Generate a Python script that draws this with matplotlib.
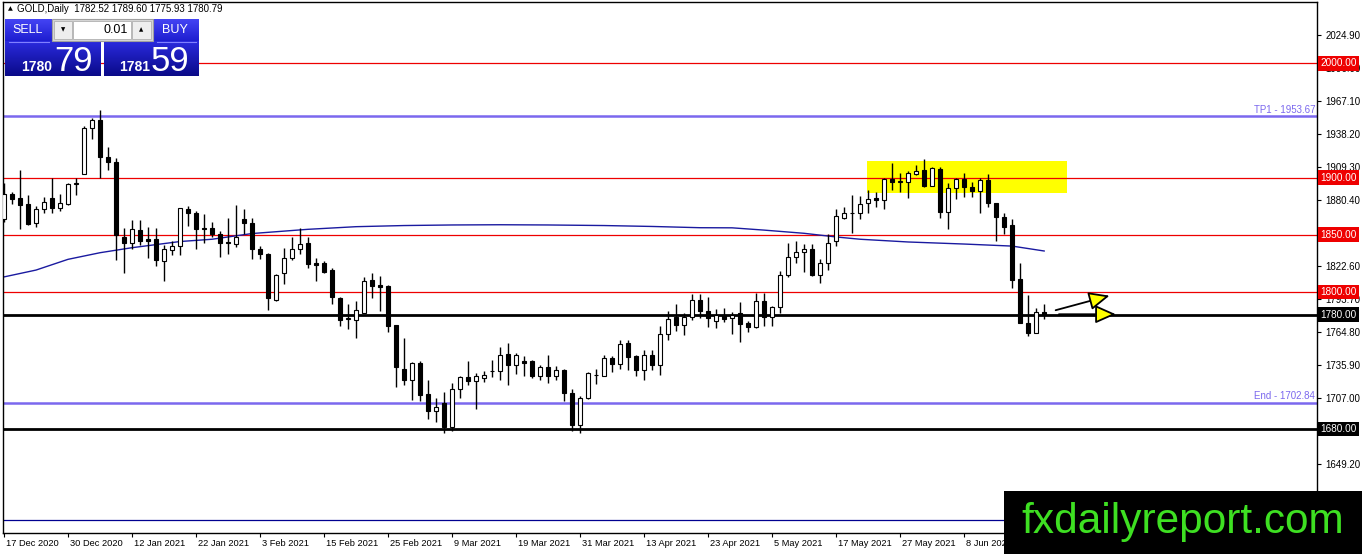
import numpy as np
import matplotlib
matplotlib.use('Agg')
import matplotlib.pyplot as plt
from matplotlib.patches import Rectangle, FancyArrowPatch
from matplotlib.colors import LinearSegmentedColormap

plt.rcParams['font.family'] = ['Liberation Sans', 'DejaVu Sans']

# daily OHLC, 17 Dec 2020 .. 22 Jun 2021
opens = [1863.5, 1885.4, 1882.5, 1876.6, 1860.0, 1872.8, 1882.5, 1873.7, 1877.2, 1894.2,
         1903.5, 1943.0, 1950.3, 1918.4, 1914.0, 1848.2, 1843.0, 1854.1, 1846.0, 1846.5,
         1826.9, 1836.6, 1840.1, 1872.1, 1869.2, 1855.5, 1855.5, 1850.3, 1843.8, 1842.2,
         1863.4, 1860.5, 1837.8, 1833.4, 1793.0, 1816.0, 1830.0, 1837.8, 1843.0, 1825.6,
         1825.6, 1818.9, 1794.2, 1776.5, 1775.3, 1781.5, 1810.3, 1805.6, 1805.3, 1770.6,
         1732.4, 1722.9, 1737.6, 1710.6, 1695.9, 1702.4, 1681.8, 1714.7, 1725.3, 1721.5,
         1724.1, 1730.6, 1730.3, 1745.6, 1735.6, 1739.0, 1739.0, 1725.8, 1734.0, 1725.8,
         1731.1, 1711.1, 1683.3, 1706.7, 1727.0, 1726.4, 1741.9, 1736.7, 1755.1, 1743.4,
         1731.7, 1744.9, 1735.5, 1763.3, 1777.7, 1770.7, 1778.0, 1792.7, 1783.4, 1774.7,
         1779.9, 1777.0, 1781.1, 1773.0, 1768.9, 1792.2, 1778.2, 1786.3, 1814.5, 1830.8,
         1835.2, 1837.2, 1814.8, 1825.6, 1844.5, 1864.3, 1869.0, 1869.2, 1877.5, 1882.5,
         1880.4, 1899.1, 1896.5, 1896.5, 1902.9, 1906.7, 1892.7, 1907.9, 1869.9, 1891.2,
         1899.1, 1892.1, 1888.3, 1898.0, 1877.5, 1865.8, 1858.2, 1811.4, 1772.8, 1764.0,
         1782.52]
highs = [1895.6, 1887.7, 1906.4, 1884.5, 1875.1, 1883.3, 1900.0, 1886.0, 1895.0, 1899.4,
         1945.0, 1952.6, 1959.4, 1927.2, 1917.5, 1855.6, 1862.9, 1862.6, 1857.0, 1856.2,
         1840.9, 1844.4, 1873.5, 1875.0, 1870.6, 1867.7, 1861.3, 1853.2, 1864.2, 1875.6,
         1872.1, 1864.2, 1840.1, 1833.6, 1815.4, 1838.7, 1848.0, 1855.5, 1848.0, 1829.9,
         1827.0, 1820.6, 1795.0, 1789.2, 1791.5, 1812.6, 1816.2, 1813.5, 1806.2, 1770.8,
         1759.1, 1738.5, 1739.1, 1722.9, 1706.8, 1712.6, 1720.0, 1726.5, 1739.7, 1728.8,
         1730.6, 1740.6, 1751.5, 1755.3, 1746.5, 1743.5, 1740.5, 1736.0, 1744.9, 1735.2,
         1732.3, 1714.7, 1708.8, 1729.9, 1732.3, 1744.9, 1744.0, 1757.5, 1757.5, 1744.9,
         1748.7, 1748.7, 1769.8, 1783.0, 1789.7, 1781.5, 1797.7, 1797.7, 1795.6, 1784.9,
         1785.8, 1782.0, 1790.7, 1774.1, 1798.5, 1798.5, 1787.8, 1818.3, 1843.0, 1844.5,
         1841.6, 1842.2, 1828.5, 1850.3, 1872.1, 1874.1, 1885.0, 1883.7, 1889.2, 1887.4,
         1900.0, 1912.6, 1903.8, 1905.8, 1910.8, 1916.7, 1909.0, 1909.6, 1895.6, 1900.0,
         1903.8, 1896.2, 1900.0, 1902.9, 1877.7, 1868.7, 1863.5, 1824.9, 1796.8, 1786.0,
         1789.60]
lows = [1861.4, 1877.2, 1855.3, 1858.5, 1856.7, 1868.7, 1868.7, 1870.8, 1875.7, 1884.8,
        1903.5, 1934.2, 1900.0, 1906.7, 1827.8, 1816.7, 1837.7, 1840.9, 1829.2, 1822.5,
        1809.3, 1832.2, 1832.3, 1857.6, 1837.2, 1843.0, 1848.0, 1830.8, 1833.4, 1839.2,
        1850.3, 1829.1, 1829.1, 1784.0, 1791.6, 1806.7, 1827.9, 1832.8, 1820.6, 1809.6,
        1816.3, 1789.2, 1769.8, 1767.4, 1759.7, 1781.0, 1794.4, 1783.2, 1764.7, 1716.2,
        1718.5, 1705.3, 1704.4, 1688.5, 1686.2, 1675.9, 1678.2, 1706.8, 1717.9, 1697.4,
        1720.9, 1725.0, 1723.0, 1718.5, 1728.0, 1726.5, 1724.3, 1722.3, 1720.5, 1722.9,
        1704.7, 1678.3, 1676.5, 1705.9, 1719.4, 1725.8, 1729.3, 1732.3, 1731.7, 1725.8,
        1722.9, 1731.7, 1727.3, 1758.1, 1765.4, 1762.5, 1775.1, 1777.1, 1769.5, 1768.3,
        1773.3, 1763.1, 1755.8, 1764.5, 1768.5, 1770.3, 1770.3, 1781.1, 1812.5, 1825.6,
        1817.7, 1814.0, 1808.1, 1818.9, 1840.1, 1863.4, 1851.7, 1863.4, 1869.3, 1874.6,
        1872.8, 1889.2, 1887.4, 1882.5, 1902.0, 1892.1, 1892.5, 1864.9, 1855.3, 1881.6,
        1883.3, 1883.3, 1869.3, 1874.6, 1844.4, 1850.3, 1803.5, 1772.2, 1761.1, 1764.0,
        1775.93]
closes = [1885.4, 1881.6, 1876.0, 1859.6, 1872.8, 1878.9, 1873.1, 1878.1, 1894.7, 1895.0,
          1943.3, 1950.3, 1918.4, 1914.0, 1849.4, 1843.0, 1854.7, 1844.4, 1844.4, 1827.8,
          1837.1, 1840.0, 1873.0, 1869.2, 1855.2, 1855.2, 1850.3, 1843.0, 1843.0, 1848.0,
          1860.5, 1837.8, 1832.8, 1794.2, 1814.5, 1830.0, 1837.8, 1842.2, 1824.1, 1823.5,
          1817.4, 1795.0, 1775.6, 1776.7, 1784.1, 1809.1, 1805.3, 1804.4, 1770.0, 1733.8,
          1722.9, 1737.6, 1709.7, 1695.9, 1698.8, 1681.8, 1714.7, 1725.3, 1721.5, 1726.5,
          1727.1, 1730.9, 1745.0, 1735.6, 1745.0, 1738.0, 1725.8, 1734.0, 1725.8, 1731.7,
          1711.7, 1683.3, 1706.7, 1728.7, 1727.5, 1741.6, 1737.0, 1754.3, 1742.5, 1731.1,
          1744.3, 1735.5, 1763.3, 1776.2, 1770.7, 1778.0, 1792.7, 1783.0, 1777.0, 1779.9,
          1776.2, 1779.9, 1771.8, 1768.9, 1792.2, 1778.2, 1786.3, 1814.5, 1830.8, 1835.2,
          1837.2, 1814.8, 1825.6, 1843.0, 1866.3, 1869.2, 1869.2, 1877.0, 1881.6, 1880.4,
          1899.1, 1896.2, 1896.6, 1903.8, 1905.8, 1892.7, 1908.8, 1869.9, 1891.2, 1899.1,
          1892.1, 1888.3, 1898.0, 1877.5, 1865.8, 1857.0, 1810.2, 1772.8, 1764.0, 1782.2,
          1780.79]

# moving average, read at a few bars
ma_bars = [0, 4, 8, 12, 16, 22, 26, 31, 38, 44, 50, 56, 62, 68, 75, 81, 87, 91, 95,
           100, 104, 107, 113, 120, 126, 130]
ma_vals = [1813.0, 1819.0, 1828.4, 1834.2, 1838.6, 1844.0, 1846.0, 1851.0, 1854.7, 1857.0,
           1858.0, 1858.5, 1858.7, 1858.5, 1858.0, 1857.2, 1856.1, 1856.0, 1854.0, 1851.2,
           1848.0, 1846.0, 1843.6, 1841.8, 1840.0, 1835.7]

date_labels = ['17 Dec 2020', '30 Dec 2020', '12 Jan 2021', '22 Jan 2021', '3 Feb 2021',
               '15 Feb 2021', '25 Feb 2021', '9 Mar 2021', '19 Mar 2021', '31 Mar 2021',
               '13 Apr 2021', '23 Apr 2021', '5 May 2021', '17 May 2021', '27 May 2021',
               '8 Jun 2021']

red_levels = [2000.0, 1900.0, 1850.0, 1800.0]
black_levels = [1780.0, 1680.0]
tp_level = 1953.67
end_level = 1702.84

price_ticks = [2024.90, 1996.00, 1967.10, 1938.20, 1909.30, 1880.40, 1822.60,
               1793.70, 1764.80, 1735.90, 1707.00, 1649.20, 1620.30]

W, H = 1362, 554
fig = plt.figure(figsize=(W / 100, H / 100), dpi=100)
ax = fig.add_axes([3 / W, 21 / H, 1314 / W, 531 / H])
ax.set_xlim(-0.125, 164.1)
ax.set_ylim(1588.7, 2053.8)

o = np.array(opens); h = np.array(highs); l = np.array(lows); c = np.array(closes)
idx = np.arange(len(o))
up = c >= o

# levels
for p in red_levels:
    ax.axhline(p, color='#ee0000', lw=0.9, zorder=1)
for p in black_levels:
    ax.axhline(p, color='black', lw=2.0, zorder=1)
for p in [tp_level, end_level]:
    ax.axhline(p, color='#7b68ee', lw=1.8, zorder=1)
ax.axhline(1600.0, color='#000090', lw=0.9, zorder=1)

# supply zone
ax.add_patch(Rectangle((107.8, 1886.8), 25.1, 28.0, facecolor='#ffff00',
                       edgecolor='none', zorder=0.5))

ax.plot(ma_bars, ma_vals, color='#1a1aa0', lw=1.0, zorder=2)

# candles
ax.vlines(idx, l, h, color='black', lw=1.0, zorder=3)
body_lo = np.minimum(o, c)
body_h = np.maximum(np.abs(c - o), 0.3)
ax.bar(idx[up], body_h[up], bottom=body_lo[up], width=0.55, facecolor='white',
       edgecolor='black', lw=0.8, zorder=4)
ax.bar(idx[~up], body_h[~up], bottom=body_lo[~up], width=0.55, facecolor='black',
       edgecolor='black', lw=0.8, zorder=4)

# arrows
for (x0, y0), (x1, y1) in [((131.1, 1783.2), (138.5, 1797.2)),
                           ((131.5, 1780.3), (139.3, 1780.3))]:
    ax.add_patch(FancyArrowPatch((x0, y0), (x1, y1),
                                 arrowstyle='-|>,head_length=0.9,head_width=0.4',
                                 mutation_scale=14, facecolor='#ffff00',
                                 edgecolor='black', lw=1.3, zorder=6))

# axes styling
for s in ax.spines.values():
    s.set_color('black')
    s.set_linewidth(1.0)
ax.yaxis.tick_right()
ax.set_yticks(price_ticks)
ax.set_yticklabels(['%.2f' % t for t in price_ticks])
ax.tick_params(axis='y', length=3, width=0.8, pad=3, labelsize=7, colors='black')
ax.set_xticks(np.arange(0, 8 * len(date_labels), 8))
ax.set_xticklabels([])
ax.tick_params(axis='x', length=3, width=0.8)
for i, lab in enumerate(date_labels):
    ax.text(8 * i + 0.2, -0.012, lab, transform=ax.get_xaxis_transform(),
            ha='left', va='top', fontsize=6.7, color='black')

ytr = ax.get_yaxis_transform()
for p in red_levels:
    ax.text(1.0025, p, '%.2f' % p, transform=ytr, ha='left', va='center', fontsize=7.2,
            color='white', zorder=8, clip_on=False,
            bbox=dict(boxstyle='square,pad=0.22', facecolor='#ee0000', edgecolor='none'))
for p in black_levels:
    ax.text(1.0025, p, '%.2f' % p, transform=ytr, ha='left', va='center', fontsize=7.2,
            color='white', zorder=8, clip_on=False,
            bbox=dict(boxstyle='square,pad=0.22', facecolor='black', edgecolor='none'))
ax.text(0.9985, tp_level + 1.5, 'TP1 - %.2f' % tp_level, transform=ytr, ha='right',
        va='bottom', fontsize=7, color='#7b68ee')
ax.text(0.9985, end_level + 1.5, 'End - %.2f' % end_level, transform=ytr, ha='right',
        va='bottom', fontsize=7, color='#7b68ee')

# overlay in pixel coords: header, trade panel, watermark
ov = fig.add_axes([0, 0, 1, 1], zorder=10)
ov.patch.set_alpha(0)
ov.axis('off')

ov.text(8, 9, '\u25b2', fontsize=4.5, ha='left', va='center', family=['DejaVu Sans'])
ov.text(17, 9, 'GOLD,Daily  1782.52 1789.60 1775.93 1780.79', fontsize=7,
        ha='left', va='center')

grad = np.linspace(0, 1, 64)[:, None]
top_cm = LinearSegmentedColormap.from_list('t', ['#4444f4', '#1e1ed0'])
low_cm = LinearSegmentedColormap.from_list('b', ['#2a2ade', '#0a0a88'])
ov.imshow(grad, extent=(5, 52, 41, 19), cmap=top_cm, aspect='auto', zorder=1)
ov.imshow(grad, extent=(153, 199, 41, 19), cmap=top_cm, aspect='auto', zorder=1)
ov.imshow(grad, extent=(5, 101, 76, 41), cmap=low_cm, aspect='auto', zorder=1)
ov.imshow(grad, extent=(104, 199, 76, 41), cmap=low_cm, aspect='auto', zorder=1)
ov.add_patch(Rectangle((52, 19), 101, 22, facecolor='#d8d8d8', edgecolor='#a0a0a0',
                       lw=0.8, zorder=2))
ov.add_patch(Rectangle((54, 21), 18, 18, facecolor='#eeeeee', edgecolor='#b0b0b0',
                       lw=0.6, zorder=3))
ov.add_patch(Rectangle((73, 21), 58, 18, facecolor='white', edgecolor='#b0b0b0',
                       lw=0.6, zorder=3))
ov.add_patch(Rectangle((132, 21), 19, 18, facecolor='#eeeeee', edgecolor='#b0b0b0',
                       lw=0.6, zorder=3))
ov.text(63, 30, '\u25bc', fontsize=4, ha='center', va='center', zorder=4,
        family=['DejaVu Sans'])
ov.text(141.5, 30, '\u25b2', fontsize=4, ha='center', va='center', zorder=4,
        family=['DejaVu Sans'])
ov.text(128, 30, '0.01', fontsize=9, ha='right', va='center', zorder=4)
ov.plot([9, 49], [41.5, 41.5], color='#8080ff', lw=0.8, zorder=3)
ov.plot([157, 196], [41.5, 41.5], color='#8080ff', lw=0.8, zorder=3)
ov.text(28, 30, 'SELL', fontsize=9, color='white', ha='center', va='center', zorder=4)
ov.text(175, 30, 'BUY', fontsize=9, color='white', ha='center', va='center', zorder=4)
ov.text(21, 71, '1780', fontsize=10, color='white', ha='left', va='baseline',
        weight='bold', zorder=4)
ov.text(54, 71, '79', fontsize=25, color='white', ha='left', va='baseline', zorder=4)
ov.text(119, 71, '1781', fontsize=10, color='white', ha='left', va='baseline',
        weight='bold', zorder=4)
ov.text(151, 71, '59', fontsize=25, color='white', ha='left', va='baseline', zorder=4)

ov.add_patch(Rectangle((1004, 491), 358, 63, facecolor='black', edgecolor='none',
                       zorder=5))
ov.text(1021, 533, 'fxdailyreport.com', fontsize=30.5, color='#3ee022', ha='left',
        va='baseline', zorder=6)

ov.set_xlim(0, W)
ov.set_ylim(H, 0)

fig.savefig('out.png', dpi=100, facecolor='white')
